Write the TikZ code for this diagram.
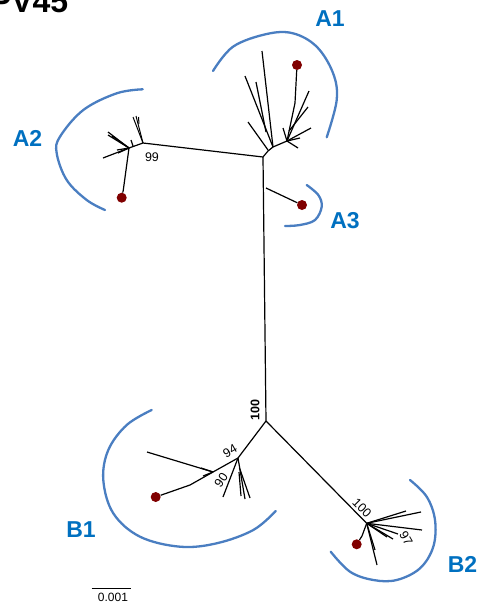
\documentclass[tikz,border=0pt]{standalone}
\usepackage{fontspec}
\setmainfont{Liberation Sans}
\definecolor{arcblue}{RGB}{74,126,193}
\definecolor{labelblue}{RGB}{0,112,192}
\definecolor{dotred}{RGB}{128,0,0}
\begin{document}
\begin{tikzpicture}[x=1pt,y=-1pt,
  branch/.style={draw=black,line width=1.2pt,line join=round},
  cladearc/.style={draw=arcblue,line width=2.3pt,line cap=round},
  cladelabel/.style={text=labelblue,font=\fontsize{23}{23}\selectfont\bfseries,inner sep=0pt},
  support/.style={font=\fontsize{12.5}{12.5}\selectfont,inner sep=0pt},
  leafdot/.style={circle,fill=dotred,minimum size=10pt,inner sep=0pt}]
\useasboundingbox (0,0) rectangle (481,606);

% title (partly above the page edge)
\node[anchor=base east,font=\fontsize{32}{32}\selectfont\bfseries,inner sep=0pt] (title) at (68.5,12.5) {PV45};

% backbone
\coordinate (T) at (263,157);
\coordinate (U) at (266,421);
\coordinate (A3j) at (266,188);
\draw[branch] (T) -- (U);

% ---- clade A3
\node[leafdot] (A3d) at (302,205) {};
\draw[branch] (A3j) -- (A3d);

% ---- clade A1
\coordinate (A1a) at (273,147);
\coordinate (A1b) at (287,141);
\node[leafdot] (A1d) at (297,65) {};
\draw[branch] (T) -- (268,151) -- (A1a) -- (A1b);
\draw[branch] (A1a) -- (262,51);
\draw[branch] (A1a) -- (245,76);
\draw[branch] (266,132) -- (256,82);
\draw[branch] (268,150) -- (248,122);
\draw[branch] (A1b) -- (295,103) -- (A1d);
\draw[branch] (A1b) -- (309,91);
\draw[branch] (289,131) -- (308,107);
\draw[branch] (A1b) -- (311,128);
\draw[branch] (A1b) -- (298,148);
\draw[branch] (A1b) -- (300,138);
\draw[branch] (A1b) -- (283,128);

% ---- clade A2
\coordinate (J2) at (143,143);
\coordinate (J2b) at (129,148);
\node[leafdot] (A2d) at (121.7,197.7) {};
\draw[branch] (T) -- (J2);
\draw[branch,line width=1pt] (J2) -- (133,117);
\draw[branch,line width=1pt] (J2) -- (136,116);
\draw[branch,line width=1pt] (139,124) -- (138.5,117);
\draw[branch] (J2) -- (J2b);
\draw[branch] (133,146) -- (131,140);
\draw[branch] (J2b) -- (108,132);
\draw[branch] (J2b) -- (108,135);
\draw[branch] (J2b) -- (112,136);
\draw[branch] (J2b) -- (103,158);
\draw[branch] (J2b) -- (117,150);
\draw[branch] (J2b) -- (118,153);
\draw[branch] (J2b) -- (123.3,190) -- (A2d);
\node[support,anchor=center] (s99) at (152,157) {99};

% ---- clade B1
\coordinate (K1) at (238,458);
\coordinate (K1b) at (213,472);
\node[leafdot] (B1d) at (155.7,497) {};
\draw[branch] (U) -- (K1) -- (K1b);
\draw[branch] (K1b) -- (190,485) -- (B1d);
\draw[branch] (K1b) -- (147,452);
\draw[branch] (K1b) -- (201,468);
\draw[branch] (K1b) -- (203,476);
\draw[branch] (K1) -- (223,497);
\draw[branch] (K1) -- (245,499);
\draw[branch] (239.5,468) -- (250,498);
\draw[branch] (239,472) -- (241,496);
\node[support,rotate=30] (s94) at (230,451) {94};
\node[support,rotate=55] (s90) at (221,480) {90};
\node[support,font=\fontsize{12.5}{12.5}\selectfont\bfseries,rotate=90] (s100a) at (255,410) {100};

% ---- clade B2
\coordinate (K2) at (366.7,523.3);
\node[leafdot] (B2d) at (356.7,544.3) {};
\draw[branch] (U) -- (K2);
\draw[branch] (K2) -- (406,511);
\draw[branch] (K2) -- (421,512);
\draw[branch] (K2) -- (422,530);
\draw[branch] (K2) -- (393,539);
\draw[branch] (K2) -- (398,534);
\draw[branch] (K2) -- (387,537);
\draw[branch] (K2) -- (377,565);
\draw[branch] (K2) -- (375,550);
\draw[branch] (K2) -- (362,536) -- (B2d);
\node[support,rotate=-45] (s100b) at (362,508) {100};
\node[support,rotate=-60] (s97) at (406,538) {97};

% ---- clade brackets
\draw[cladearc] plot[smooth,tension=0.6] coordinates {(213,71) (233,46.7) (266.7,34) (293,33.3) (316.7,46.7) (333,73) (336.7,100) (326.7,137.3)};
\draw[cladearc] plot[smooth,tension=0.6] coordinates {(142.7,89.3) (116.7,93.3) (83.3,110) (60,136.7) (56.7,153.3) (66.7,180) (86.7,200) (105,210)};
\draw[cladearc] plot[smooth,tension=0.6] coordinates {(306.7,185) (318.3,195) (321.7,206.7) (315,220) (300,225) (285,226)};
\draw[cladearc] plot[smooth,tension=0.6] coordinates {(151.7,410) (126.7,425) (108.3,450) (103.3,480) (113.3,513.3) (140,536.7) (180,546.7) (216.7,543.3) (253.3,530) (275.7,511)};
\draw[cladearc] plot[smooth,tension=0.6] coordinates {(410,480) (426.7,496.7) (435,520) (433.3,546.7) (420,568.3) (396.7,580) (373.3,580) (350,571.7) (330.7,551.7)};

\node[cladelabel] (lA1) at (330,19) {A1};
\node[cladelabel] (lA2) at (27.5,138.5) {A2};
\node[cladelabel] (lA3) at (345,221) {A3};
\node[cladelabel] (lB1) at (81,530) {B1};
\node[cladelabel] (lB2) at (462.5,564) {B2};

% scale bar
\coordinate (sbL) at (91.7,588);
\coordinate (sbR) at (130.7,588);
\draw[line width=1pt] (sbL) -- (sbR);
\node[font=\fontsize{12}{12}\selectfont,inner sep=0pt] (sbtext) at (113,597) {0.001};
\end{tikzpicture}
\end{document}
